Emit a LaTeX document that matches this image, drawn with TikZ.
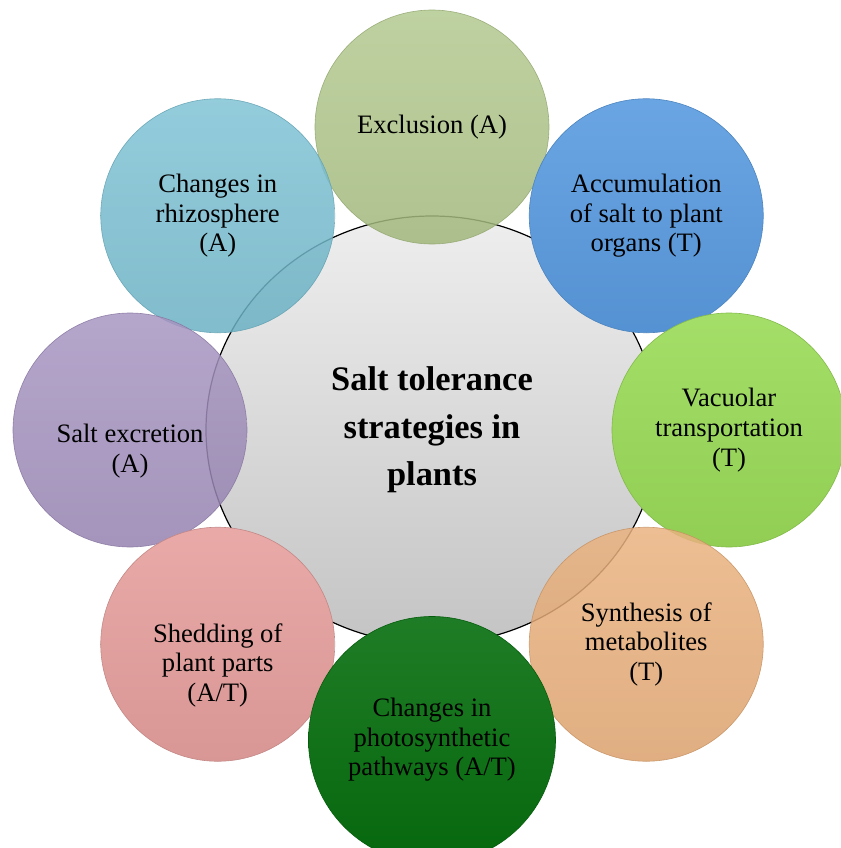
\documentclass[tikz,border=0pt]{standalone}
\usepackage{fontspec}
\setmainfont{Liberation Serif}
\usetikzlibrary{positioning, shapes.geometric}
\definecolor{hubTop}{HTML}{EEEEEE}
\definecolor{hubBottom}{HTML}{C4C4C4}
\definecolor{exclGreen}{HTML}{ABC383}
\definecolor{accuBlue}{HTML}{5A9BE0}
\definecolor{vacuGreen}{HTML}{9ADB58}
\definecolor{syntPeach}{HTML}{E8AA72}
\definecolor{photGreen}{HTML}{066E0E}
\definecolor{shedPink}{HTML}{E6A09E}
\definecolor{excrPurple}{HTML}{9E8ABB}
\definecolor{rhizCyan}{HTML}{72BCD0}

\begin{document}
\begin{tikzpicture}[
    petaltext/.style={font=\fontsize{13.3}{14.8}\selectfont, align=center,
                text=black, text opacity=1},
    petal/.style={circle, minimum size=117pt, inner sep=0pt, petaltext,
                top color=#1!90!white, bottom color=#1!94!black,
                draw=#1!85!black, line width=0.3pt},
    seethrough/.style={fill opacity=0.85, draw opacity=0.85},
    hub/.style={ellipse, minimum width=226pt, minimum height=214pt, inner sep=0pt,
                top color=hubTop, bottom color=hubBottom, draw=black, line width=0.6pt,
                font=\fontsize{17.2}{23.8}\selectfont\bfseries, align=center},
  ]
    \useasboundingbox (-216pt,-209pt) rectangle (204.5pt,215pt);

    \node[hub] (hub) at (0,0) {Salt tolerance\\ strategies in\\ plants};

    % petals round the hub, clockwise from the top
    \node[petal=exclGreen, seethrough] (excl) at ([shift={(90:151.5pt)}]hub) {Exclusion (A)};
    \node[petal=accuBlue] (accu) at ([shift={(45:151.5pt)}]hub) {Accumulation\\of salt to plant\\organs (T)};
    \node[petal=vacuGreen] (vacu) at ([shift={(0:148.5pt)}]hub) {Vacuolar\\transportation\\(T)};
    \node[petal=syntPeach, seethrough] (synt) at ([shift={(-45:151.5pt)}]hub) {Synthesis of\\metabolites\\(T)};
    \node[petal=rhizCyan, seethrough] (rhiz) at ([shift={(135:151.5pt)}]hub) {Changes in\\rhizosphere\\(A)};
    \node[petal=excrPurple, seethrough,
          label={[petaltext, yshift=-10.5pt]center:Salt excretion\\(A)}] (excr) at ([shift={(180:151pt)}]hub) {};
    \node[petal=shedPink,
          label={[petaltext, yshift=-10.5pt]center:Shedding of\\plant parts\\(A/T)}] (shed) at ([shift={(-135:151.5pt)}]hub) {};
    \node[petal=photGreen, minimum size=123.5pt] (phot) at ([shift={(-90:155pt)}]hub) {Changes in\\photosynthetic\\pathways (A/T)};
  \end{tikzpicture}
\end{document}
